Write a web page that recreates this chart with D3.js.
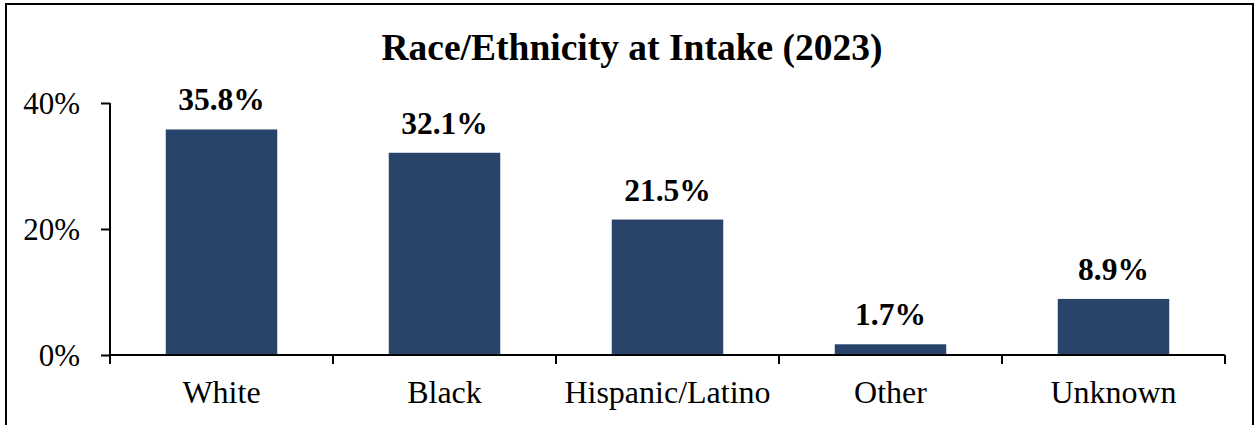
<!DOCTYPE html>
<html><head><meta charset="utf-8">
<script src="https://cdn.jsdelivr.net/npm/d3@7"></script>
<style>html,body{margin:0;padding:0;background:#fff;overflow:hidden}</style>
</head><body><svg id="c" width="1255" height="425"></svg>
<script>
const categories = ["White","Black","Hispanic/Latino","Other","Unknown"];
const values = [35.8,32.1,21.5,1.7,8.9];
const yTicks = [0,20,40];
const title = "Race/Ethnicity at Intake (2023)";

const svg = d3.select("#c");
const font = "'Liberation Serif','Times New Roman',serif";
svg.append("rect").attr("x",6).attr("y",4).attr("width",1247).attr("height",430)
  .attr("fill","none").attr("stroke","#000").attr("stroke-width",2);

const left=110,right=1225,y0=355,y40=103;
const x = d3.scaleBand().domain(categories).range([left,right]).paddingInner(0.5).paddingOuter(0.25);
const y = d3.scaleLinear().domain([0,40]).range([y0,y40]);

svg.append("text").attr("x",632).attr("y",60).attr("text-anchor","middle")
  .attr("font-family",font).attr("font-weight","bold").attr("font-size",37.5).text(title);

svg.selectAll("rect.bar").data(values).join("rect").attr("class","bar")
  .attr("x",(d,i)=>x(categories[i])).attr("width",x.bandwidth())
  .attr("y",d=>y(d)).attr("height",d=>y0-y(d)).attr("fill","#29446b");

svg.selectAll("text.val").data(values).join("text").attr("class","val")
  .attr("x",(d,i)=>x(categories[i])+x.bandwidth()/2).attr("y",d=>y(d)-19)
  .attr("text-anchor","middle").attr("font-family",font).attr("font-weight","bold")
  .attr("font-size",31.5).text(d=>d.toFixed(1)+"%");

// y axis
const ya = svg.append("g").attr("transform",`translate(${left},0)`)
  .call(d3.axisLeft(y).tickValues(yTicks).tickFormat(d=>d+"%").tickSize(9).tickPadding(21));
ya.select(".domain").attr("d",`M0,${y40}V${y0+9}`).attr("stroke","#000").attr("stroke-width",2);
ya.selectAll(".tick line").attr("stroke","#000").attr("stroke-width",2);
ya.selectAll(".tick text").attr("font-family",font).attr("font-size",31).attr("fill","#000").attr("dy","0.35em");

// x axis
const xa = svg.append("g").attr("transform",`translate(0,${y0})`);
const step = (right-left)/categories.length;
const bounds = d3.range(categories.length+1).map(i=>left+i*step);
xa.append("path").attr("d",`M${left},0H${right}`).attr("stroke","#000").attr("stroke-width",2).attr("fill","none");
xa.selectAll("line.b").data(bounds).join("line").attr("class","b")
  .attr("x1",d=>d).attr("x2",d=>d).attr("y1",0).attr("y2",9).attr("stroke","#000").attr("stroke-width",2);
xa.selectAll("text.cat").data(categories).join("text").attr("class","cat")
  .attr("x",d=>x(d)+x.bandwidth()/2).attr("y",48).attr("text-anchor","middle")
  .attr("font-family",font).attr("font-size",32).attr("fill","#000").text(d=>d);
</script></body></html>
